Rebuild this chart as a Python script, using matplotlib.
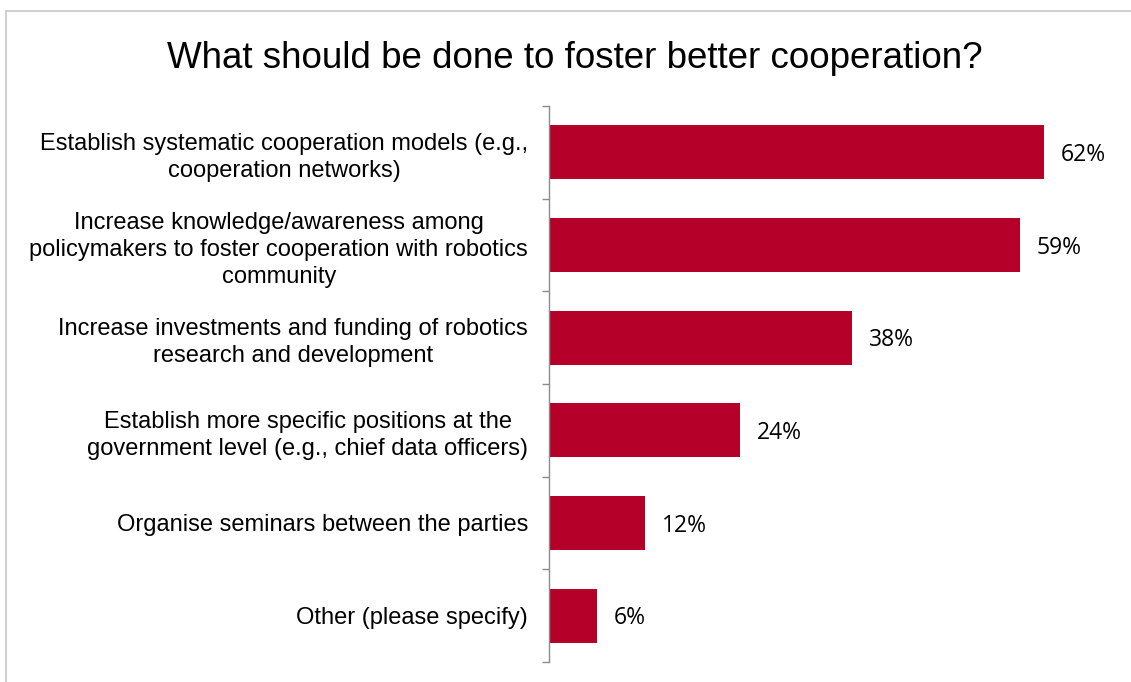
import matplotlib

matplotlib.use("Agg")

import matplotlib.pyplot as plt
import numpy as np
from matplotlib.patches import Rectangle

# Survey answers, top to bottom
categories = [
    "Establish systematic cooperation models (e.g.,\ncooperation networks)",
    "Increase knowledge/awareness among\npolicymakers to foster cooperation with robotics\ncommunity",
    "Increase investments and funding of robotics\nresearch and development",
    "Establish more specific positions at the\ngovernment level (e.g., chief data officers)",
    "Organise seminars between the parties",
    "Other (please specify)",
]
shares = [62, 59, 38, 24, 12, 6]

TITLE = "What should be done to foster better cooperation?"
BAR_COLOR = "#B5002A"
AXIS_GRAY = "#8C8C8C"

fig = plt.figure(figsize=(11.31, 6.82), dpi=100)

# thin frame around the whole chart area
fig.patches.append(Rectangle((5.5 / 1131, -0.05), 1.2, 1 - 10.5 / 682 + 0.05,
                             transform=fig.transFigure, fill=False,
                             edgecolor="#D0D0D0", lw=1.5))

ax = fig.add_axes([549 / 1131, 20 / 682, 560 / 1131, 556 / 682])
y = np.arange(len(categories))
ax.barh(y, shares, height=0.58, color=BAR_COLOR, edgecolor="none")
ax.set_ylim(len(categories) - 0.5, -0.5)
ax.set_xlim(0, 70.2)

for yi, v in zip(y, shares):
    ax.text(v + 2.1, yi + 0.03, f"{v}%", va="center", ha="left",
            fontsize=16.5, family="Open Sans", color="black")

ax.set_yticks(y)
ax.set_yticklabels(categories, fontsize=17, family="Liberation Sans",
                   linespacing=1.3, multialignment="center")
ax.tick_params(axis="y", which="major", length=0, pad=15)
ax.set_yticks(np.arange(-0.5, len(categories)), minor=True)
ax.tick_params(axis="y", which="minor", length=5, width=1, color=AXIS_GRAY,
               direction="out")
ax.set_xticks([])

for side in ("top", "right", "bottom"):
    ax.spines[side].set_visible(False)
ax.spines["left"].set_color(AXIS_GRAY)
ax.spines["left"].set_linewidth(1)

fig.text(575 / 1131, 1 - 59 / 682, TITLE, ha="center", va="center",
         fontsize=26.5, family="Liberation Sans")

fig.savefig("out.png", dpi=100)
